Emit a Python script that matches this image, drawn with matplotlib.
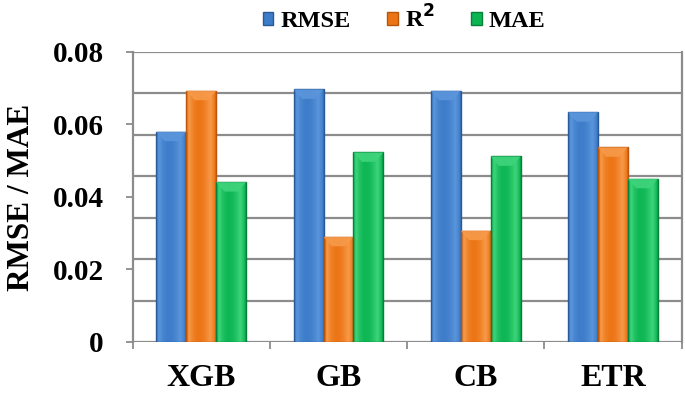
import matplotlib.pyplot as plt
import numpy as np
from matplotlib.colors import LinearSegmentedColormap
from matplotlib.patches import Polygon, Rectangle

MODELS = ["XGB", "GB", "CB", "ETR"]
SERIES = ["RMSE", "R$^{\\mathbf{2}}$", "MAE"]
RMSE = [0.0580, 0.0697, 0.0693, 0.0634]
R2 = [0.0693, 0.0290, 0.0307, 0.0537]
MAE = [0.0441, 0.0523, 0.0512, 0.0450]
Y_TICKS = [0, 0.02, 0.04, 0.06, 0.08]
Y_TICK_LABELS = ["0", "0.02", "0.04", "0.06", "0.08"]

# (dark edge, mid, light highlight) per series
BAR_COLOURS = [
    ("#2a5a96", "#3d7cc9", "#5b96dc"),
    ("#b8560c", "#ec7414", "#f79a4a"),
    ("#06803a", "#0cb552", "#3fd47c"),
]

GRID_COLOUR = "#8c8c8c"
BAR_WIDTH = 0.218

plt.rcParams["font.family"] = ["Liberation Serif", "DejaVu Serif"]
plt.rcParams["font.weight"] = "bold"

fig = plt.figure(figsize=(6.85, 3.96), dpi=100)
ax = fig.add_axes([0.1937, 0.1364, 0.8013, 0.7323])
ax.set_xlim(-0.5, len(MODELS) - 0.5)
ax.set_ylim(0, 0.08)

# back wall grid lines
for g in np.linspace(0, 0.08, 8):
    ax.axhline(g, color=GRID_COLOUR, lw=1.6, zorder=0)


def _draw_bar(ax, x0, height, colours):
    """Draw one shaded column with a small bevelled cap."""
    dark, mid, light = colours
    cmap = LinearSegmentedColormap.from_list(
        "bar", [dark, mid, light, mid, dark], N=256)
    grad = np.linspace(0, 1, 64).reshape(1, -1)
    grad = 0.15 + 0.7 * np.sin(np.pi * grad) ** 0.6 * (1 - 0.35 * grad)
    rect = Rectangle((x0, 0), BAR_WIDTH, height, facecolor="none",
                     edgecolor=dark, lw=1.0, zorder=3)
    ax.add_patch(rect)
    im = ax.imshow(grad, cmap=cmap, vmin=0, vmax=1, aspect="auto",
                   extent=(x0, x0 + BAR_WIDTH, 0, height), zorder=2,
                   interpolation="bilinear")
    im.set_clip_path(rect)
    cap = 0.0026
    tri = Polygon([(x0, height), (x0 + BAR_WIDTH, height),
                   (x0 + BAR_WIDTH * 0.72, height - cap),
                   (x0 + BAR_WIDTH * 0.28, height - cap)],
                  closed=True, facecolor=light, edgecolor="none",
                  alpha=0.9, zorder=3)
    ax.add_patch(tri)


x = np.arange(len(MODELS))
for i, vals in enumerate([RMSE, R2, MAE]):
    for xi, v in zip(x, vals):
        _draw_bar(ax, xi + (i - 1.5) * BAR_WIDTH, v, BAR_COLOURS[i])

# legend handles
for i, name in enumerate(SERIES):
    ax.bar([np.nan], [np.nan], color=BAR_COLOURS[i][1],
           edgecolor=BAR_COLOURS[i][0], label=name)
ax.legend(loc="lower center", bbox_to_anchor=(0.495, 1.035), ncol=3,
          frameon=False, prop={"size": 17.5, "weight": "bold"},
          handlelength=0.42, handleheight=0.42, handletextpad=0.3,
          columnspacing=1.5, borderaxespad=0)

ax.set_yticks(Y_TICKS)
ax.set_yticklabels(Y_TICK_LABELS)
ax.set_xticks(x)
ax.set_xticklabels(MODELS)
ax.set_xticks(np.arange(-0.5, len(MODELS)), minor=True)
ax.tick_params(axis="y", length=5, width=1.3, color=GRID_COLOUR,
               labelsize=21, pad=16)
ax.tick_params(axis="x", which="major", length=0, labelsize=23, pad=16)
ax.tick_params(axis="x", which="minor", length=5, width=1.3, color=GRID_COLOUR)
ax.set_ylabel("RMSE / MAE", fontsize=22.5, fontweight="bold", labelpad=12)

for side in ["top", "bottom"]:
    ax.spines[side].set_visible(False)
for side in ["left", "right"]:
    ax.spines[side].set_color(GRID_COLOUR)
    ax.spines[side].set_linewidth(1.6)

fig.savefig("out.png", dpi=100)
